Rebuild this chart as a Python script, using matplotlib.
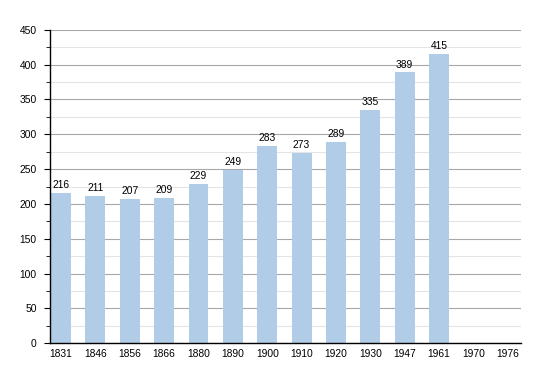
import matplotlib
matplotlib.use("Agg")
from matplotlib import pyplot as plt
from matplotlib.ticker import MultipleLocator

plt.rcParams["font.family"] = ["Liberation Sans", "DejaVu Sans"]

years = ["1831", "1846", "1856", "1866", "1880", "1890", "1900",
         "1910", "1920", "1930", "1947", "1961", "1970", "1976"]
population = [216, 211, 207, 209, 229, 249, 283, 273, 289, 335, 389, 415, None, None]

bar_color = "#b0cce6"

fig = plt.figure(figsize=(5.5, 3.73), dpi=100)
ax = fig.add_axes([0.091, 0.080, 0.856, 0.840])

xs = list(range(len(years)))
for x, v in zip(xs, population):
    if v is None:
        continue  # no census value
    ax.bar(x, v, width=0.58, color=bar_color, zorder=2)
    ax.text(x, v + 4, str(v), ha="center", va="bottom", fontsize=7.4, zorder=3)

ax.set_xlim(-0.32, 13.38)
ax.set_ylim(0, 450)
ax.set_xticks(xs)
ax.set_xticklabels(years)
ax.yaxis.set_major_locator(MultipleLocator(50))
ax.yaxis.set_minor_locator(MultipleLocator(25))

ax.grid(axis="y", which="major", color="#a8a8a8", linewidth=0.8, zorder=0)
ax.grid(axis="y", which="minor", color="#e4e4e4", linewidth=0.8, zorder=0)

for side in ["top", "right"]:
    ax.spines[side].set_visible(False)
ax.spines["left"].set_linewidth(1.0)
ax.spines["bottom"].set_linewidth(1.0)

ax.tick_params(axis="x", length=0, labelsize=7.4, pad=4)
ax.tick_params(axis="y", which="major", length=4.5, labelsize=7.4, pad=5)
ax.tick_params(axis="y", which="minor", length=3)

plt.savefig("out.png", dpi=100)
